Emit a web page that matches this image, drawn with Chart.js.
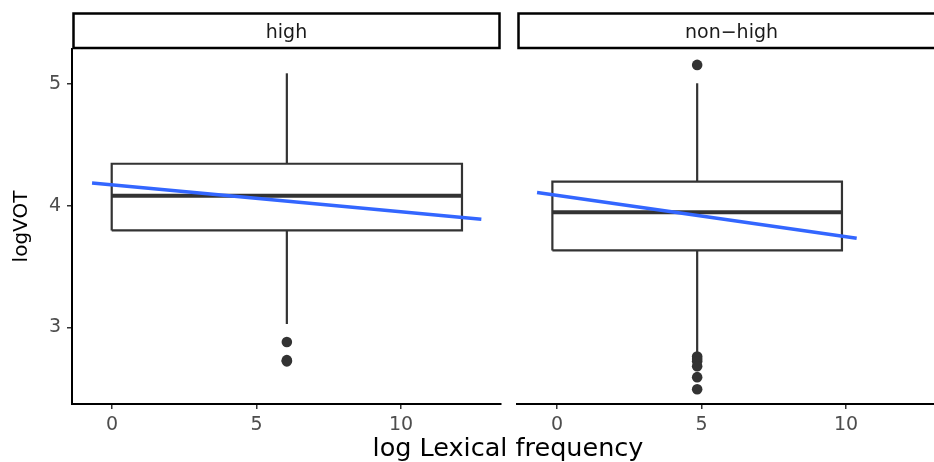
<!DOCTYPE html>
<html>
<head>
<meta charset="utf-8">
<script src="https://cdn.jsdelivr.net/npm/chart.js@4.4.1/dist/chart.umd.min.js"></script>
<style>
  html, body { margin: 0; padding: 0; background: #fff; overflow: hidden; }
  #wrap { position: relative; width: 934px; height: 462px; overflow: hidden; }
  canvas { position: absolute; top: 0; }
  #left { left: 0; }
  #right { left: 502px; }
  #xtitle {
    position: absolute; left: 308px; width: 400px; top: 435px;
    text-align: center; font: 25.5px 'DejaVu Sans'; line-height: 25px; color: #000;
  }
</style>
</head>
<body>
<div id="wrap">
  <canvas id="left" width="502" height="462"></canvas>
  <canvas id="right" width="444" height="462"></canvas>
  <div id="xtitle">log Lexical frequency</div>
</div>
<script>
// facets
var categories = ['high', 'non−high'];
var xTicks = [0, 5, 10];
var yTicks = [3, 4, 5];

// boxplot stats per facet
var boxCenter = [6.05, 4.85];
var boxWidth = [12.12, 10.02];
var q1 = [3.797, 3.633];
var median = [4.082, 3.946];
var q3 = [4.346, 4.198];
var whiskerLow = [3.027, 2.786];
var whiskerHigh = [5.09, 5.008];
var outliersHigh = [2.879, 2.73, 2.72];
var outliersNonHigh = [5.159, 2.76, 2.74, 2.72, 2.68, 2.59, 2.49];
var outliers = [outliersHigh, outliersNonHigh];

// lm fit line endpoints
var fitX = [[-0.69, 12.78], [-0.69, 10.37]];
var fitY = [[4.187, 3.89], [4.11, 3.732]];

var font = 'DejaVu Sans';
var boxColor = '#333333';

var stripPlugin = {
  id: 'strip',
  afterDraw: function(chart, args, opts) {
    var ctx = chart.ctx;
    var a = chart.chartArea;
    ctx.save();
    ctx.strokeStyle = '#000';
    ctx.lineWidth = 2.5;
    ctx.strokeRect(a.left + 1.5, 13.5, a.right - a.left - 3, 34.5);
    ctx.fillStyle = '#1a1a1a';
    ctx.font = '19px "' + font + '"';
    ctx.textAlign = 'center';
    ctx.textBaseline = 'alphabetic';
    ctx.fillText(opts.label, (a.left + a.right) / 2, 37.5);
    ctx.restore();
  }
};

function lineSet(pts, width, color, order) {
  return {
    data: pts, showLine: true, borderColor: color, borderWidth: width,
    pointRadius: 0, fill: false, order: order
  };
}

function noPad(s) {
  s.paddingLeft = 0; s.paddingRight = 0; s.paddingTop = 0; s.paddingBottom = 0;
}

function makePanel(i, canvasId, showY, padding) {
  var lo = boxCenter[i] - boxWidth[i] / 2;
  var hi = boxCenter[i] + boxWidth[i] / 2;
  var c = boxCenter[i];
  var datasets = [
    lineSet([{x: fitX[i][0], y: fitY[i][0]}, {x: fitX[i][1], y: fitY[i][1]}], 3.5, '#3366FF', 0),
    lineSet([{x: lo, y: q1[i]}, {x: hi, y: q1[i]}, {x: hi, y: q3[i]}, {x: lo, y: q3[i]}, {x: lo, y: q1[i]}], 2.2, boxColor, 1),
    lineSet([{x: lo, y: median[i]}, {x: hi, y: median[i]}], 4, boxColor, 1),
    lineSet([{x: c, y: q3[i]}, {x: c, y: whiskerHigh[i]}], 2.2, boxColor, 1),
    lineSet([{x: c, y: q1[i]}, {x: c, y: whiskerLow[i]}], 2.2, boxColor, 1),
    {
      data: outliers[i].map(function(v) { return {x: c, y: v}; }),
      pointRadius: 5.3, pointBackgroundColor: boxColor, pointBorderWidth: 0,
      showLine: false, order: 1
    }
  ];

  return new Chart(document.getElementById(canvasId), {
    type: 'scatter',
    data: { datasets: datasets },
    plugins: [stripPlugin],
    options: {
      responsive: false,
      animation: false,
      devicePixelRatio: 1,
      layout: { padding: padding, autoPadding: false },
      plugins: {
        legend: { display: false },
        tooltip: { enabled: false },
        strip: { label: categories[i] }
      },
      events: [],
      scales: {
        x: {
          type: 'linear',
          min: -1.384,
          max: 13.46,
          afterBuildTicks: function(s) { s.ticks = xTicks.map(function(v) { return {value: v}; }); },
          afterFit: function(s) { s.height = 58; noPad(s); },
          border: { display: true, color: '#000', width: 2 },
          grid: { display: true, drawOnChartArea: false, drawTicks: true, tickLength: 5, color: '#333', lineWidth: 1.5 },
          ticks: { color: '#4d4d4d', font: { family: font, size: 19 }, padding: 5, maxRotation: 0 }
        },
        y: {
          type: 'linear',
          display: showY,
          min: 2.369,
          max: 5.29,
          afterBuildTicks: function(s) { s.ticks = yTicks.map(function(v) { return {value: v}; }); },
          afterFit: function(s) { s.width = showY ? 72 : 0; noPad(s); },
          border: { display: true, color: '#000', width: 2 },
          grid: { display: true, drawOnChartArea: false, drawTicks: true, tickLength: 5, color: '#333', lineWidth: 1.5 },
          ticks: { color: '#4d4d4d', font: { family: font, size: 19 }, padding: 6 },
          title: {
            display: true, text: 'logVOT', color: '#000',
            font: { family: font, size: 20 }, padding: { top: 10, bottom: 0 }
          }
        }
      }
    }
  });
}

makePanel(0, 'left', true, { top: 49, right: 1, bottom: 0, left: 0 });
makePanel(1, 'right', false, { top: 49, right: 0, bottom: 0, left: 15 });
</script>
</body>
</html>
